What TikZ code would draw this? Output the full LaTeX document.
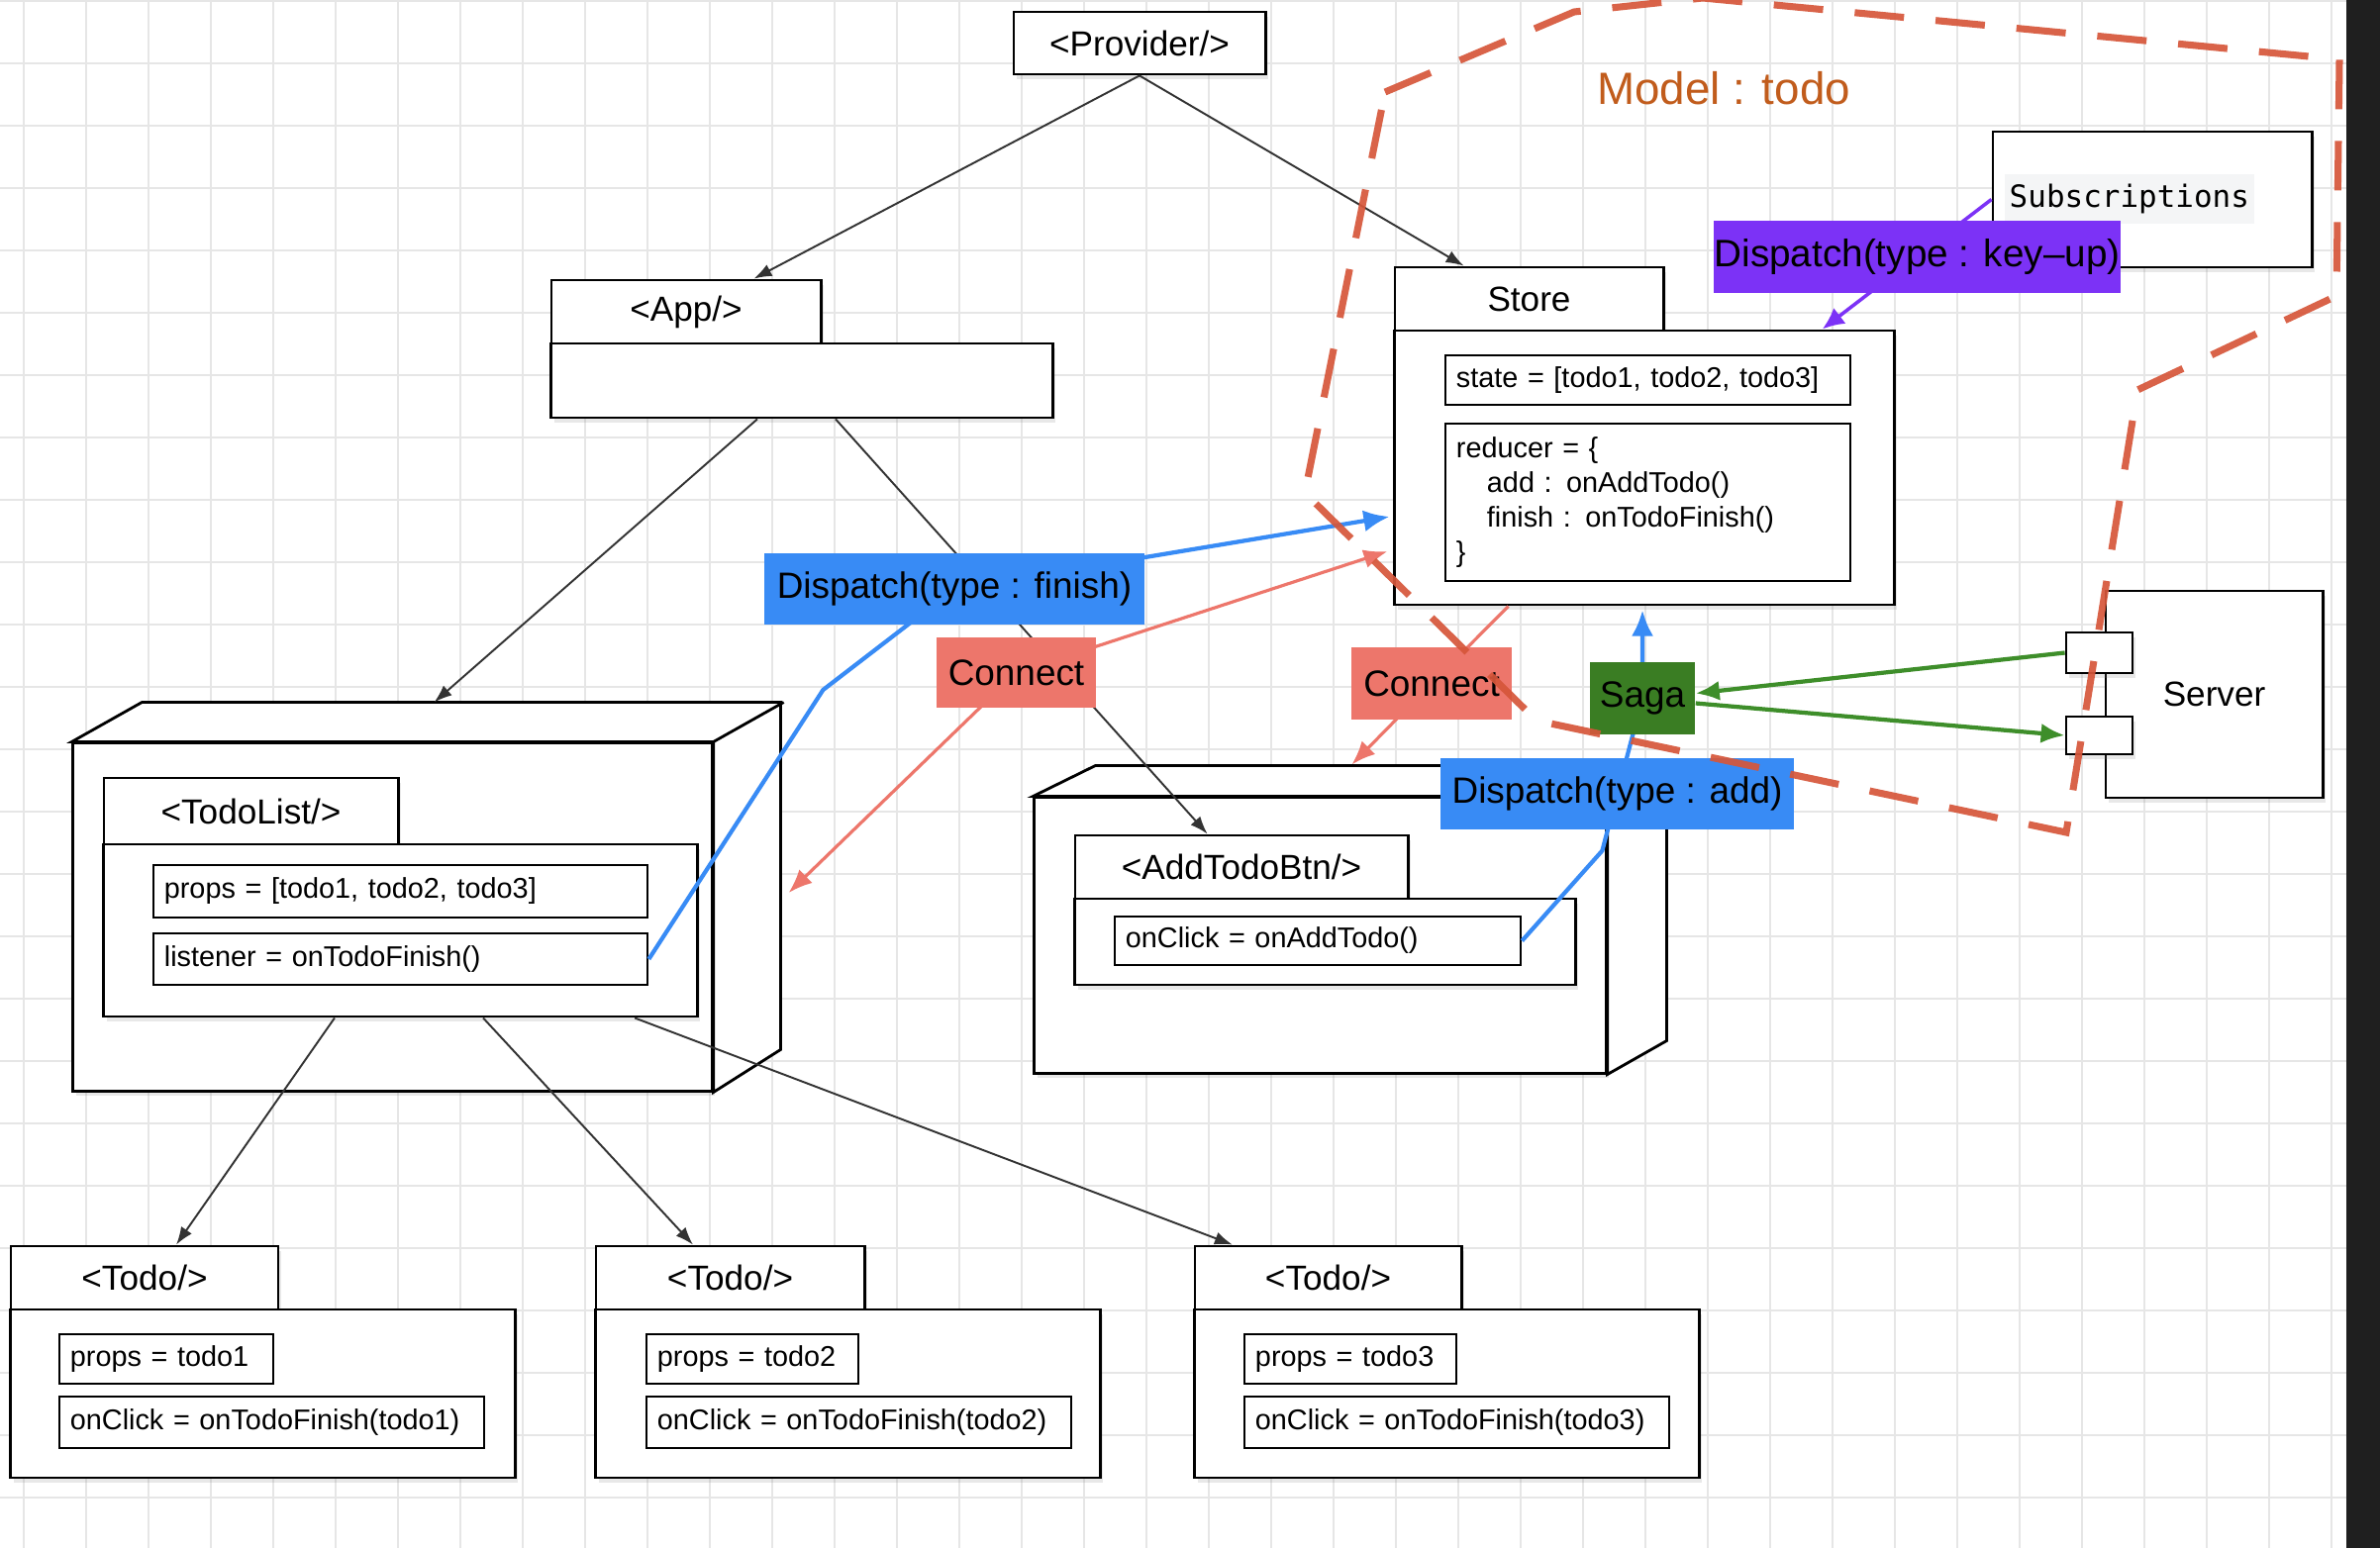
\documentclass[tikz,border=0pt]{standalone}
\usepackage{fontspec}
\setmainfont{Liberation Sans}
\newfontfamily\subsfont{DejaVu Sans Mono}
\usetikzlibrary{arrows.meta, calc, shadows}

\definecolor{dispblue}{RGB}{56,139,245}
\definecolor{connred}{RGB}{237,118,107}
\definecolor{sagagreen}{RGB}{58,125,35}
\definecolor{arrowgreen}{RGB}{62,142,42}
\definecolor{keypurple}{RGB}{124,50,246}
\definecolor{modelred}{RGB}{214,86,58}
\definecolor{modeltext}{RGB}{193,92,28}
\definecolor{gridgray}{RGB}{230,230,230}
\definecolor{subsgray}{RGB}{244,245,246}

\pgfdeclarelayer{gridlayer}
\pgfdeclarelayer{wires}
\pgfdeclarelayer{tags}
\pgfdeclarelayer{model}
\pgfsetlayers{gridlayer,main,wires,tags,model}

\tikzset{
    umlbox/.style={draw=black, line width=0.8pt, fill=white, inner sep=0pt,
        drop shadow={opacity=0.18, shadow xshift=0.03cm, shadow yshift=-0.05cm}},
    tabbox/.style={umlbox, font=\fontsize{10}{12}\selectfont},
    attrbox/.style={draw=black, line width=0.7pt, fill=white, inner xsep=0.11cm, inner ysep=0pt,
        align=left, font=\fontsize{8.2}{10}\selectfont},
    tagbox/.style={inner sep=0pt, font=\fontsize{10.5}{12}\selectfont},
    gridline/.style={gridgray, line width=0.55pt},
    wire/.style={black!80, line width=0.55pt, -{Latex[length=1.8mm,width=1.3mm]}},
    blueline/.style={dispblue, line width=1.2pt},
    redline/.style={connred, line width=0.9pt},
    greenline/.style={arrowgreen, line width=1.2pt, -{Latex[length=2.4mm,width=2mm]}},
    purpleline/.style={keypurple, line width=1pt, -{Latex[length=2.2mm,width=2mm]}},
    modelline/.style={modelred, line width=2pt, dash pattern=on 0.5cm off 0.32cm, opacity=0.92}
}

\begin{document}
\begin{tikzpicture}[x=0.01cm, y=-0.01cm]
    \useasboundingbox (0,0) rectangle (2404,1564);
    \clip (0,0) rectangle (2404,1564);

    \begin{pgfonlayer}{gridlayer}
        \fill[white] (0,0) rectangle (2404,1564);
        \foreach \gx in {0,...,37} \draw[gridline] (23.6+63*\gx,0) -- ++(0,1564);
        \foreach \gy in {0,...,24} \draw[gridline] (0,1+63*\gy) -- ++(2404,0);
        \fill[black!88] (2370,0) rectangle (2404,1564);
    \end{pgfonlayer}

    % components
    \node[tabbox, minimum width=2.54cm, minimum height=0.63cm] (provider) at (1151,43.5) {<Provider/>};

    \node[tabbox, minimum width=2.72cm, minimum height=0.64cm] (apptab) at (693,315) {<App/>};
    \node[umlbox, minimum width=5.06cm, minimum height=0.75cm] (appbody) at (810,384.5) {};

    \node[tabbox, minimum width=2.71cm, minimum height=0.64cm] (storetab) at (1544.5,302) {Store};
    \node[umlbox, minimum width=5.04cm, minimum height=2.77cm] (storebody) at (1661,472.5) {};
    \node[attrbox, text width=3.87cm, minimum height=0.50cm] (state) at (1664.5,384) {state = [todo1, todo2, todo3]};
    \node[attrbox, text width=3.87cm, minimum height=1.59cm] (reducer) at (1664.5,507.5)
        {reducer = \{\\\hspace*{0.31cm}add : onAddTodo()\\\hspace*{0.31cm}finish : onTodoFinish()\\\}};

    \node[umlbox, minimum width=3.22cm, minimum height=1.37cm] (subs) at (2174,201.5) {};
    \node[anchor=west, fill=subsgray, inner xsep=0.05cm, inner ysep=0pt, minimum height=0.5cm,
        font=\subsfont\fontsize{8.8}{11}\selectfont] (substext) at (2024,201) {Subscriptions};

    \node[text=modeltext, inner sep=0pt, font=\fontsize{13}{15}\selectfont] (model) at (1741,89) {Model : todo};

    \node[umlbox, minimum width=6.45cm, minimum height=3.51cm] (todolist) at (396.5,926.5) {};
    \draw[line width=0.8pt, fill=white] (todolist.north west) -- ++(71,-40) -- ++(645,0) -- ++(0,351)
        -- (todolist.south east) -- (todolist.north east) -- cycle;
    \draw[line width=0.8pt] (todolist.north east) -- ++(71,-40);
    \node[tabbox, minimum width=2.97cm, minimum height=0.67cm] (tltab) at (253.5,819.5) {<TodoList/>};
    \node[umlbox, minimum width=5.99cm, minimum height=1.74cm] (tlbody) at (404.5,940) {};
    \node[attrbox, text width=4.77cm, minimum height=0.53cm] (tlprops) at (404.5,900.5) {props = [todo1, todo2, todo3]};
    \node[attrbox, text width=4.77cm, minimum height=0.52cm] (tllistener) at (404.5,969) {listener = onTodoFinish()};

    \node[umlbox, minimum width=5.77cm, minimum height=2.78cm] (addtodo) at (1333.5,945) {};
    \draw[line width=0.8pt, fill=white] (addtodo.north west) -- ++(63,-31) -- ++(577,0) -- ++(0,278)
        -- (addtodo.south east) -- (addtodo.north east) -- cycle;
    \draw[line width=0.8pt] (addtodo.north east) -- ++(63,-31);
    \node[tabbox, minimum width=3.36cm, minimum height=0.64cm] (addtab) at (1254,876) {<AddTodoBtn/>};
    \node[umlbox, minimum width=5.05cm, minimum height=0.87cm] (addbody) at (1338.5,951.5) {};
    \node[attrbox, text width=3.88cm, minimum height=0.49cm] (addclick) at (1331,950.5) {onClick = onAddTodo()};

    \node[tabbox, minimum width=2.19cm, minimum height=2.09cm] (server) at (2236.5,701.5) {Server};
    \node[umlbox, minimum width=0.67cm, minimum height=0.41cm] (portin) at (2120.5,659.5) {};
    \node[umlbox, minimum width=0.67cm, minimum height=0.38cm] (portout) at (2120.5,743) {};

    \node[tabbox, minimum width=2.70cm, minimum height=0.64cm] (todo1tab) at (146,1291) {<Todo/>};
    \node[umlbox, minimum width=5.09cm, minimum height=1.70cm] (todo1body) at (265.5,1408) {};
    \node[attrbox, text width=1.94cm, minimum height=0.50cm] (todo1props) at (168,1373) {props = todo1};
    \node[attrbox, text width=4.07cm, minimum height=0.52cm] (todo1click) at (274.5,1437) {onClick = onTodoFinish(todo1)};

    \node[tabbox, minimum width=2.71cm, minimum height=0.64cm] (todo2tab) at (737.5,1291) {<Todo/>};
    \node[umlbox, minimum width=5.09cm, minimum height=1.70cm] (todo2body) at (856.5,1408) {};
    \node[attrbox, text width=1.92cm, minimum height=0.50cm] (todo2props) at (760,1373) {props = todo2};
    \node[attrbox, text width=4.07cm, minimum height=0.52cm] (todo2click) at (867.5,1437) {onClick = onTodoFinish(todo2)};

    \node[tabbox, minimum width=2.69cm, minimum height=0.64cm] (todo3tab) at (1341.5,1291) {<Todo/>};
    \node[umlbox, minimum width=5.09cm, minimum height=1.70cm] (todo3body) at (1461.5,1408) {};
    \node[attrbox, text width=1.92cm, minimum height=0.50cm] (todo3props) at (1364,1373) {props = todo3};
    \node[attrbox, text width=4.07cm, minimum height=0.52cm] (todo3click) at (1471.5,1437) {onClick = onTodoFinish(todo3)};

    % coloured tags
    \begin{pgfonlayer}{tags}
        \node[tagbox, fill=keypurple, minimum width=4.11cm, minimum height=0.73cm, font=\fontsize{11}{13}\selectfont] (keyup) at (1936.5,259.5) {Dispatch(type : key\textendash up)};
        \node[tagbox, fill=dispblue, minimum width=3.84cm, minimum height=0.72cm] (finish) at (964,595) {Dispatch(type : finish)};
        \node[tagbox, fill=connred, minimum width=1.61cm, minimum height=0.71cm] (connectL) at (1026.5,679.5) {Connect};
        \node[tagbox, fill=connred, minimum width=1.62cm, minimum height=0.73cm] (connectR) at (1446,690.5) {Connect};
        \node[tagbox, fill=sagagreen, minimum width=1.06cm, minimum height=0.73cm] (saga) at (1659,705.5) {Saga};
        \node[tagbox, fill=dispblue, minimum width=3.57cm, minimum height=0.72cm] (addlabel) at (1633.5,802) {Dispatch(type : add)};
    \end{pgfonlayer}

    \begin{pgfonlayer}{wires}
        \draw[wire] (provider.south) -- ([xshift=-0.69cm]apptab.north east);
        \draw[wire] (provider.south) -- ([xshift=0.71cm]storetab.north west);
        \draw[wire] ([xshift=-0.45cm]appbody.south) -- ([xshift=3.66cm,yshift=0.4cm]todolist.north west);
        \draw[wire] ([xshift=0.34cm]appbody.south) -- ([xshift=1.35cm]addtab.north west);
        \draw[wire] ([xshift=-0.665cm]tlbody.south) -- ([xshift=0.32cm]todo1tab.north);
        \draw[wire] ([xshift=0.835cm]tlbody.south) -- ([xshift=-0.375cm]todo2tab.north);
        \draw[wire] ([xshift=2.365cm]tlbody.south) -- ([xshift=-0.965cm]todo3tab.north);

        \draw[blueline, -{Latex[length=2.6mm,width=2.2mm]}] (tllistener.east) -- ++(176,-272) -- (finish.center)
            -- ([shift={(-4,49.5)}]storebody.west);
        \draw[blueline, -{Latex[length=2.6mm,width=2.2mm]}] (addclick.east) -- ++(81,-91) -- (addlabel.center)
            -- (saga.center) -- ($(saga.center |- storebody.south)+(0,4)$);

        \draw[redline, {Latex[length=2.4mm,width=1.9mm]}-{Latex[length=2.4mm,width=1.9mm]}]
            ([shift={(-6,84.5)}]storebody.west) -- (connectL.center) -- ([shift={(76,-24.5)}]todolist.east);
        \draw[redline, -{Latex[length=2.4mm,width=1.9mm]}] ([xshift=1.16cm]storebody.south west) -- (connectR.center)
            -- ([shift={(322,-32)}]addtodo.north west);

        \draw[greenline] (portin.west) -- ([yshift=0.05cm]saga.east);
        \draw[greenline] ([yshift=-0.05cm]saga.east) -- (portout.west);

        \draw[purpleline] (subs.west) -- ([xshift=4.33cm]storebody.north west);
    \end{pgfonlayer}

    \begin{pgfonlayer}{model}
        \draw[modelline] (1399,93) -- (1590,12) -- (1720,-2) -- (2363,60) -- (2360,299) -- (2159,394)
            -- (2087,841) -- (1552,728) -- (1318,498) -- cycle;
    \end{pgfonlayer}
\end{tikzpicture}
\end{document}
